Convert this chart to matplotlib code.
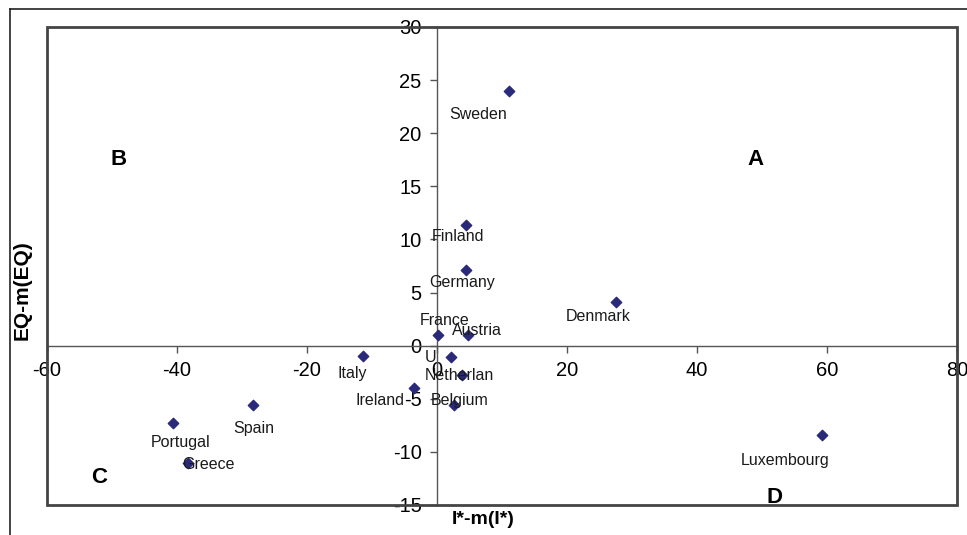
import matplotlib
matplotlib.use('Agg')
import matplotlib.pyplot as plt
from matplotlib.patches import Rectangle
from matplotlib.lines import Line2D

plt.rcParams['font.family'] = ['Liberation Sans', 'DejaVu Sans']
plt.rcParams['axes.unicode_minus'] = False

# Data
countries = ['Sweden', 'Finland', 'Germany', 'Denmark', 'France', 'Austria', 'U',
             'Netherlan', 'Belgium', 'Ireland', 'Italy', 'Spain', 'Portugal',
             'Greece', 'Luxembourg']
i_dev = [11.1, 4.5, 4.5, 27.5, 0.2, 4.8, 2.2, 3.8, 2.6, -3.5, -11.4, -28.3, -40.6, -38.3, 59.2]
eq_dev = [24.0, 11.4, 7.1, 4.1, 1.0, 1.0, -1.1, -2.8, -5.6, -4.0, -1.0, -5.6, -7.3, -11.0, -8.4]

x_ticks = [-60, -40, -20, 0, 20, 40, 60, 80]
y_ticks = [-15, -10, -5, 0, 5, 10, 15, 20, 25, 30]

quadrants = ['A', 'B', 'C', 'D']
quad_x = [49, -49, -52, 52]
quad_y = [17.5, 17.5, -12.4, -14.3]

# label offsets in pixels (label centre relative to marker)
label_offsets = {
    'Sweden': (-31, -24), 'Finland': (-8, -12), 'Germany': (-4, -12),
    'Denmark': (-18, -14), 'France': (6, 15), 'Austria': (9, 5),
    'U': (-21, 0), 'Netherlan': (-2, 0), 'Belgium': (6, 5),
    'Ireland': (-34, -12), 'Italy': (-11, -17), 'Spain': (1, -23),
    'Portugal': (7, -19), 'Greece': (20, -2), 'Luxembourg': (-37, -26),
}

fig = plt.figure(figsize=(9.67, 5.35), dpi=100)
ax = fig.add_axes([47 / 967, 30 / 535, 910 / 967, 478 / 535])

ax.scatter(i_dev, eq_dev, marker='D', s=28, color='#2a2a7a', zorder=4)

for name, x, y in zip(countries, i_dev, eq_dev):
    dx, dy = label_offsets[name]
    ax.annotate(name, (x, y), xytext=(dx, dy), textcoords='offset pixels',
                ha='center', va='center', fontsize=11.5, color='#1a1a1a', zorder=5)

for q, x, y in zip(quadrants, quad_x, quad_y):
    ax.text(x, y, q, ha='center', va='center', fontsize=16, fontweight='bold')

ax.set_xlim(-60, 80)
ax.set_ylim(-15, 30)
ax.set_xticks(x_ticks)
ax.set_yticks(y_ticks)

# axes crossing at origin
ax.spines['left'].set_position(('data', 0))
ax.spines['bottom'].set_position(('data', 0))
ax.spines['top'].set_visible(False)
ax.spines['right'].set_visible(False)
for s in ['left', 'bottom']:
    ax.spines[s].set_color('#555555')
    ax.spines[s].set_linewidth(1.0)
ax.tick_params(axis='both', direction='out', length=5, width=1, color='#555555',
               labelsize=14.5, pad=6)

# plot area box
ax.add_patch(Rectangle((0, 0), 1, 1, transform=ax.transAxes, fill=False,
                       edgecolor='#444444', linewidth=2, clip_on=False, zorder=3))

# axis titles
fig.text(22 / 967, 1 - 290 / 535, 'EQ-m(EQ)', rotation=90, ha='center', va='center',
         fontsize=15, fontweight='bold')
fig.text(483 / 967, 1 - 519 / 535, 'I*-m(I*)', ha='center', va='center',
         fontsize=14, fontweight='bold')

# outer frame lines
fig.add_artist(Line2D([10 / 967, 1], [1 - 9 / 535, 1 - 9 / 535], transform=fig.transFigure,
                      color='#222222', linewidth=1.2))
fig.add_artist(Line2D([10 / 967, 10 / 967], [0, 1 - 9 / 535], transform=fig.transFigure,
                      color='#222222', linewidth=1.2))

fig.savefig('out.png', dpi=100)
